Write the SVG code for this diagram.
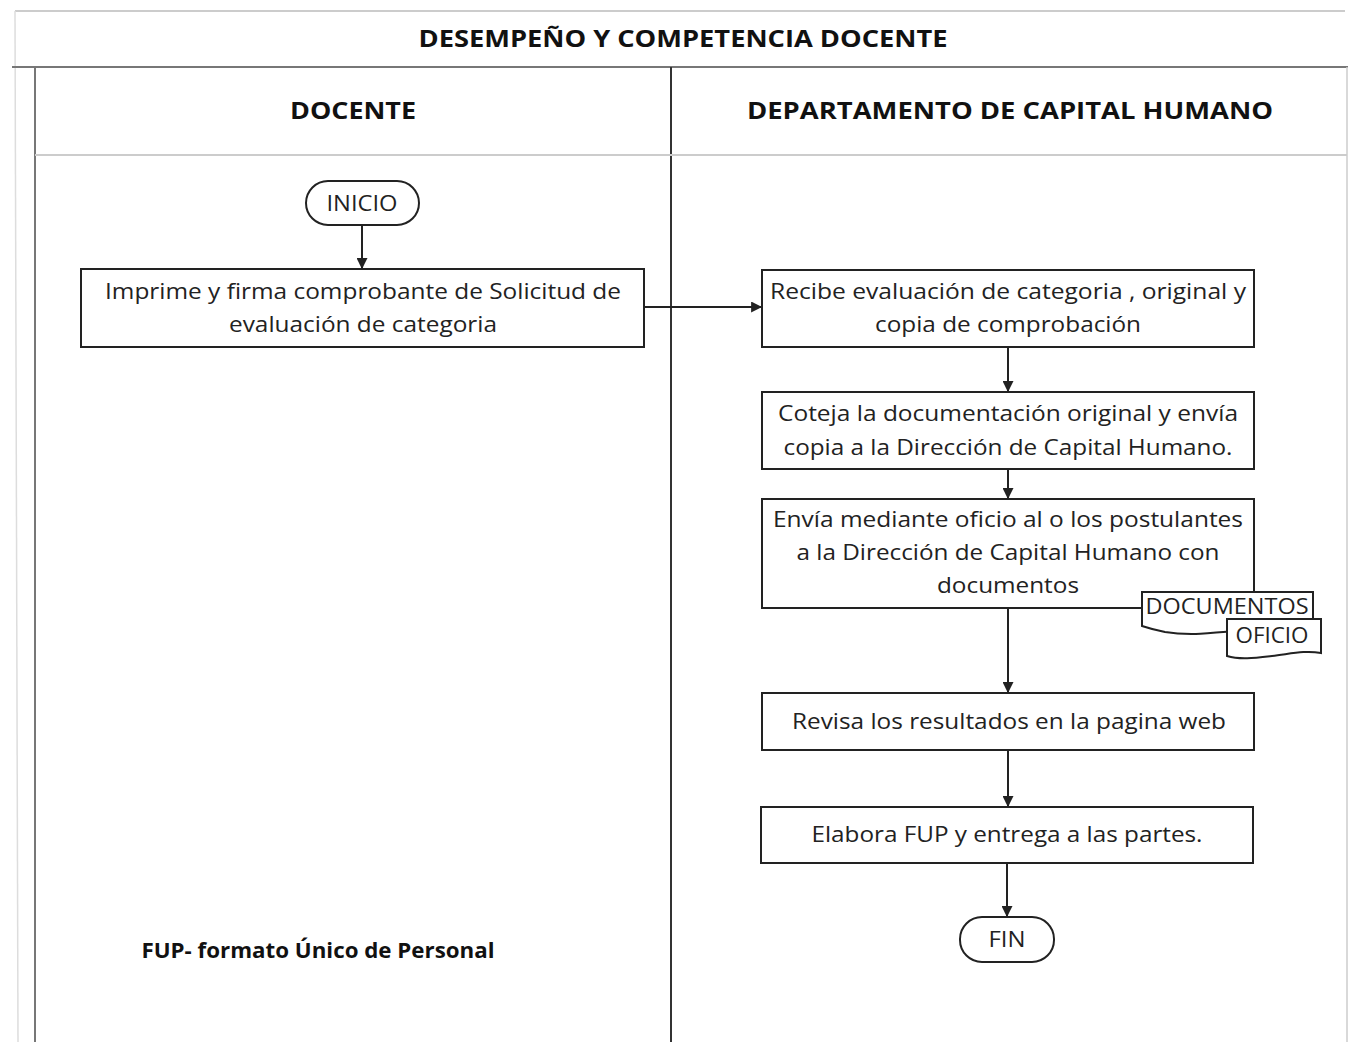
<svg xmlns="http://www.w3.org/2000/svg" width="1353" height="1042" viewBox="0 0 1353 1042">
<style>
.t{font-family:"Open Sans","Liberation Sans",Arial,sans-serif;font-size:22px;fill:#222;text-anchor:middle}
.h{font-family:"Open Sans","Liberation Sans",Arial,sans-serif;font-size:24px;font-weight:bold;fill:#111;text-anchor:middle}
.box{fill:#fff;stroke:#222;stroke-width:2}
.conn{stroke:#222;stroke-width:2;fill:none;marker-end:url(#ah)}
</style>
<defs>
<marker id="ah" viewBox="0 0 10 10" refX="9" refY="5" markerWidth="11" markerHeight="11" orient="auto" markerUnits="userSpaceOnUse">
<path d="M0,0 L10,5 L0,10 Z" fill="#222"/>
</marker>
</defs>
<rect width="1353" height="1042" fill="#fff"/>
<g id="frame">
<line x1="15" y1="11" x2="1345" y2="11" stroke="#ccc" stroke-width="2"/>
<line x1="15" y1="11" x2="18" y2="1042" stroke="#ddd" stroke-width="1.5"/>
<line x1="12" y1="67" x2="1348" y2="67" stroke="#777" stroke-width="2"/>
<line x1="35" y1="67" x2="35" y2="1042" stroke="#777" stroke-width="2"/>
<line x1="671" y1="67" x2="671" y2="1042" stroke="#333" stroke-width="2"/>
<line x1="1347" y1="67" x2="1347" y2="1042" stroke="#ccc" stroke-width="1.5"/>
<line x1="35" y1="155" x2="1347" y2="155" stroke="#ccc" stroke-width="2"/>
<text class="h" x="683" y="47" textLength="529" lengthAdjust="spacingAndGlyphs">DESEMPEÑO Y COMPETENCIA DOCENTE</text>
<text class="h" x="353" y="119" textLength="126" lengthAdjust="spacingAndGlyphs">DOCENTE</text>
<text class="h" x="1010" y="119" textLength="526" lengthAdjust="spacingAndGlyphs">DEPARTAMENTO DE CAPITAL HUMANO</text>
</g>
<g id="connectors">
<line class="conn" x1="362" y1="225" x2="362" y2="268"/>
<line class="conn" x1="644" y1="307" x2="761" y2="307"/>
<line class="conn" x1="1008" y1="347" x2="1008" y2="391"/>
<line class="conn" x1="1008" y1="469" x2="1008" y2="498"/>
<line class="conn" x1="1008" y1="608" x2="1008" y2="692"/>
<line class="conn" x1="1008" y1="750" x2="1008" y2="806"/>
<line class="conn" x1="1007" y1="863" x2="1007" y2="916"/>
</g>
<g id="inicio">
<rect class="box" x="306" y="181" width="113" height="44" rx="22"/>
<text class="t" x="362" y="211" textLength="71" lengthAdjust="spacingAndGlyphs">INICIO</text>
</g>
<g id="imprime">
<rect class="box" x="81" y="269" width="563" height="78"/>
<text class="t" x="363" y="299" textLength="516" lengthAdjust="spacingAndGlyphs">Imprime y firma comprobante de Solicitud de</text>
<text class="t" x="363" y="332" textLength="268" lengthAdjust="spacingAndGlyphs">evaluación de categoria</text>
</g>
<g id="recibe">
<rect class="box" x="762" y="270" width="492" height="77"/>
<text class="t" x="1008" y="299" textLength="476" lengthAdjust="spacingAndGlyphs">Recibe evaluación de categoria , original y</text>
<text class="t" x="1008" y="332" textLength="266" lengthAdjust="spacingAndGlyphs">copia de comprobación</text>
</g>
<g id="coteja">
<rect class="box" x="762" y="392" width="492" height="77"/>
<text class="t" x="1008" y="421" textLength="460" lengthAdjust="spacingAndGlyphs">Coteja la documentación original y envía</text>
<text class="t" x="1008" y="455" textLength="449" lengthAdjust="spacingAndGlyphs">copia a la Dirección de Capital Humano.</text>
</g>
<g id="envia">
<rect class="box" x="762" y="499" width="492" height="109"/>
<text class="t" x="1008" y="527" textLength="470" lengthAdjust="spacingAndGlyphs">Envía mediante oficio al o los postulantes</text>
<text class="t" x="1008" y="560" textLength="423" lengthAdjust="spacingAndGlyphs">a la Dirección de Capital Humano con</text>
<text class="t" x="1008" y="593" textLength="142" lengthAdjust="spacingAndGlyphs">documentos</text>
</g>
<g id="documentos">
<path class="box" stroke-width="1.5" d="M1142,592 H1313 V624 C1290,622 1270,628 1245,630 C1215,633 1190,636 1165,632 C1155,630 1148,628 1142,626 Z"/>
<text class="t" x="1227" y="614" textLength="163" lengthAdjust="spacingAndGlyphs">DOCUMENTOS</text>
</g>
<g id="oficio">
<path class="box" stroke-width="1.5" d="M1227,619 H1321 V653 C1305,650 1290,654 1272,656 C1255,658 1240,660 1227,656 Z"/>
<text class="t" x="1272" y="643" textLength="73" lengthAdjust="spacingAndGlyphs">OFICIO</text>
</g>
<g id="revisa">
<rect class="box" x="762" y="693" width="492" height="57"/>
<text class="t" x="1009" y="729" textLength="434" lengthAdjust="spacingAndGlyphs">Revisa los resultados en la pagina web</text>
</g>
<g id="elabora">
<rect class="box" x="761" y="807" width="492" height="56"/>
<text class="t" x="1007" y="842" textLength="391" lengthAdjust="spacingAndGlyphs">Elabora FUP y entrega a las partes.</text>
</g>
<g id="fin">
<rect class="box" x="960" y="917" width="94" height="45" rx="22"/>
<text class="t" x="1007" y="947" textLength="37" lengthAdjust="spacingAndGlyphs">FIN</text>
</g>
<g id="nota">
<text x="318" y="958" font-family="Open Sans, Liberation Sans, Arial, sans-serif" font-size="22" font-weight="bold" fill="#111" text-anchor="middle" textLength="353" lengthAdjust="spacingAndGlyphs">FUP- formato Único de Personal</text>
</g>
</svg>
